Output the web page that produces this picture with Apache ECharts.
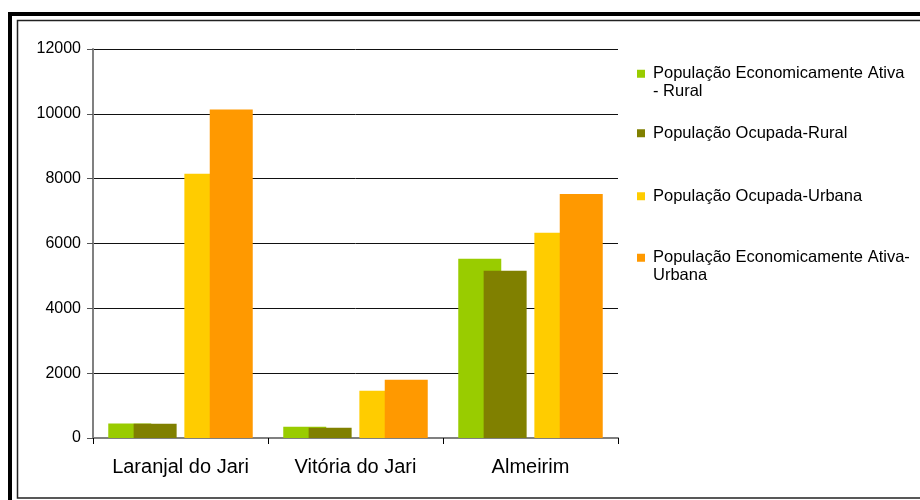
<!DOCTYPE html>
<html>
<head>
<meta charset="utf-8">
<script src="https://cdn.jsdelivr.net/npm/echarts@6/dist/echarts.min.js"></script>
<style>
  html, body { margin: 0; padding: 0; background: #fff; }
  #main { width: 920px; height: 500px; }
</style>
</head>
<body>
<div id="main"></div>
<script>
var categories = ['Laranjal do Jari', 'Vitória do Jari', 'Almeirim'];
var seriesNames = [
  'População Economicamente Ativa - Rural',
  'População Ocupada-Rural',
  'População Ocupada-Urbana',
  'População Economicamente Ativa-Urbana'
];
// how each legend entry is broken over lines
var legendLabels = [
  'População Economicamente Ativa\n- Rural',
  'População Ocupada-Rural',
  'População Ocupada-Urbana',
  'População Economicamente Ativa-\nUrbana'
];
var peaRural = [450, 350, 5530];
var ocupRural = [440, 320, 5160];
var ocupUrbana = [8150, 1460, 6330];
var peaUrbana = [10130, 1800, 7530];
var colors = ['#99CC00', '#808000', '#FFCC00', '#FF9900'];
var yMin = 0, yMax = 12000, yStep = 2000;

var font = 'Liberation Sans, Arial, sans-serif';
var myChart = echarts.init(document.getElementById('main'));

function bar(i, data) {
  return {
    name: seriesNames[i],
    type: 'bar',
    data: data,
    barWidth: 43,
    barGap: '-41%',
    itemStyle: { color: colors[i] },
    animation: false
  };
}

// one legend block per entry so the spacing follows the reference
var legendTops = [47.5, 124.5, 187.5, 231.5];
var legends = seriesNames.map(function (n, i) {
  var label = legendLabels[i];
  // a blank first line keeps the icon level with the first text line
  if (label.indexOf('\n') >= 0) label = ' \n' + label;
  return {
    data: [n],
    left: 637,
    top: legendTops[i],
    orient: 'vertical',
    padding: 0,
    itemWidth: 8,
    itemHeight: 8,
    icon: 'rect',
    selectedMode: false,
    formatter: function () { return label; },
    textStyle: {
      fontFamily: font,
      fontSize: 16.5,
      color: '#000',
      lineHeight: 17.5,
      padding: [0, 0, 0, 3]
    }
  };
});

option = {
  animation: false,
  color: colors,
  grid: { left: 93, right: 302, top: 49, bottom: 62 },
  legend: legends,
  graphic: [
    { type: 'rect', shape: { x: 10, y: 14, width: 2000, height: 2000 },
      style: { fill: null, stroke: '#000', lineWidth: 4 }, silent: true },
    { type: 'rect', shape: { x: 17.5, y: 20.5, width: 2000, height: 477.5 },
      style: { fill: null, stroke: '#222', lineWidth: 1.5 }, silent: true }
  ],
  xAxis: {
    type: 'category',
    data: categories,
    axisLine: { lineStyle: { color: '#808080', width: 2 } },
    axisTick: { show: true, interval: 0, length: 6, lineStyle: { color: '#000' } },
    axisLabel: { interval: 0, fontFamily: font, fontSize: 20, color: '#000', margin: 19 }
  },
  yAxis: {
    type: 'value',
    min: yMin,
    max: yMax,
    interval: yStep,
    axisLine: { show: true, lineStyle: { color: '#808080', width: 2 } },
    axisTick: { show: true, length: 6, lineStyle: { color: '#555' } },
    axisLabel: {
      fontFamily: font, fontSize: 16, color: '#000', margin: 12,
      formatter: function (v) { return String(v); }
    },
    splitLine: { lineStyle: { color: '#111', width: 1 } }
  },
  series: [
    bar(0, peaRural),
    bar(1, ocupRural),
    // empty slot that leaves the gap between the rural and urban pairs
    { name: '', type: 'bar', data: [], barWidth: 43, barGap: '-41%' },
    bar(2, ocupUrbana),
    bar(3, peaUrbana)
  ]
};
myChart.setOption(option);
</script>
</body>
</html>
